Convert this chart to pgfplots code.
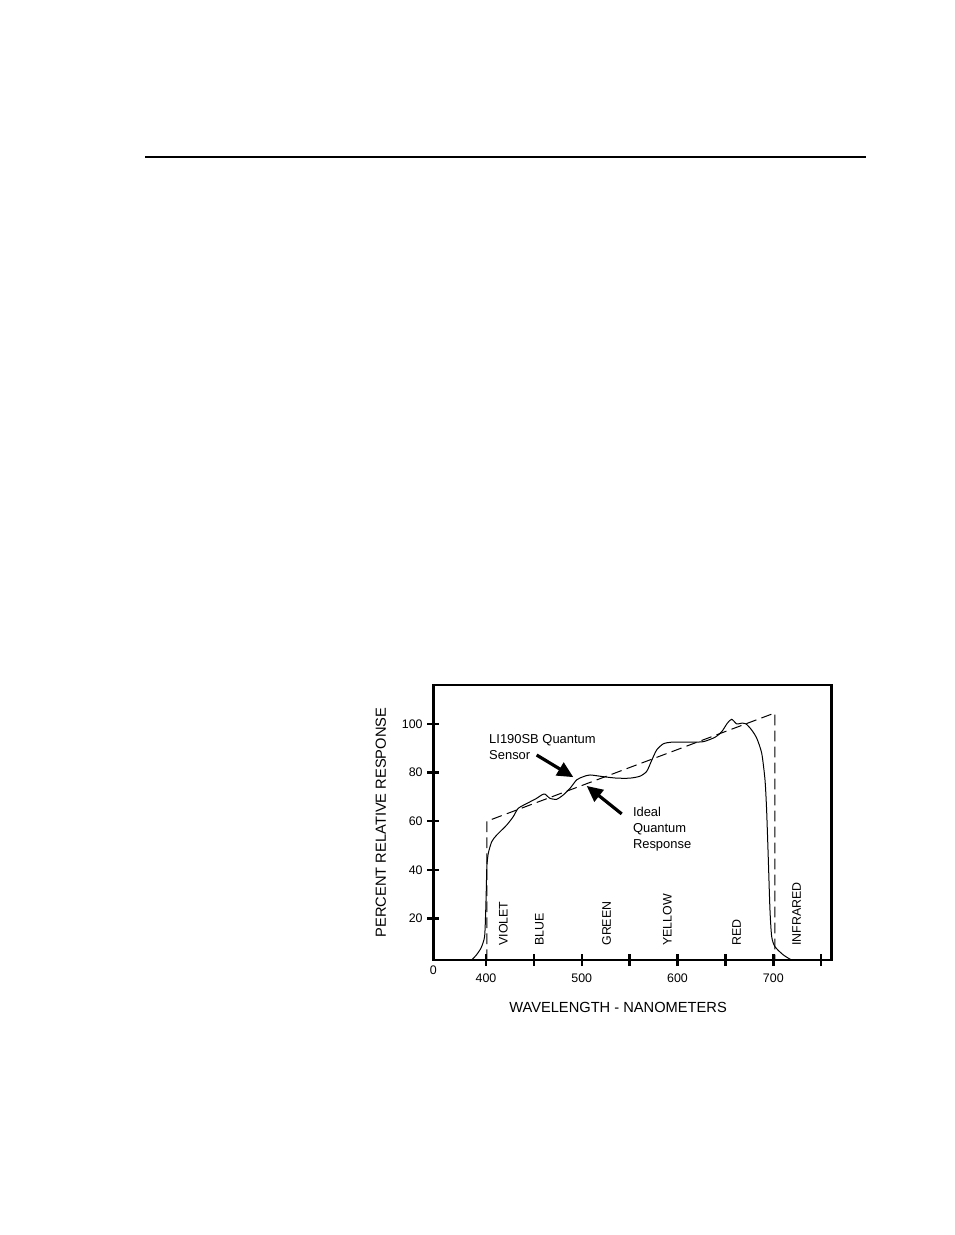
\documentclass[border=0pt]{standalone}
\usepackage{pgfplots}
\pgfplotsset{compat=1.18}
\usepackage{fontspec}
\setmainfont{Liberation Sans}
\usetikzlibrary{arrows.meta}
\begin{document}
\begin{tikzpicture}
\path[use as bounding box] (0,0) rectangle (715.5pt,-926.25pt);
\draw[line width=1.8pt] (108.75pt,-117.75pt) -- (649.5pt,-117.75pt);
\begin{axis}[
  at={(325pt,-720pt)}, anchor=south west,
  scale only axis, width=298.8pt, height=206.25pt,
  xmin=345, xmax=761, ymin=2.9, ymax=116,
  axis line style={line width=2.2pt},
  tick pos=left, tick align=center,
  major tick length=9pt,
  tick style={line width=1.8pt, black},
  xtick={400,450,500,550,600,650,700,750},
  xticklabels={400,,500,,600,,700,},
  ytick={20,40,60,80,100},
  /pgf/number format/assume math mode=true,
  ticklabel style={font=\fontsize{9.3}{11}\selectfont},
  xticklabel style={yshift=-2pt},
  xlabel={WAVELENGTH - NANOMETERS},
  ylabel={PERCENT RELATIVE RESPONSE},
  label style={font=\fontsize{11}{13}\selectfont},
  xlabel style={at={(axis description cs:0.4636,-0.171)}, anchor=center},
  ylabel style={at={(axis description cs:-0.132,0.5)}, anchor=center},
  clip=false,
]
\addplot[black, line width=0.75pt, smooth, tension=0.4] coordinates {
(385,2.9) (390,5) (395,8) (398.5,12.5) (399.6,22) (400.3,32) (400.9,41.5) (402.4,46.8) (406,51.6) (411.2,54.3) (421.6,58.4) (428.5,61.9) (433.7,65.3) (444.2,67.6) (452.9,69.4) (458.2,70.8) (461.6,71.1) (466.8,69.4) (473.8,69.0) (480.7,70.8) (487.7,73.5) (494.7,77) (501.6,78.3) (508.6,79.0) (522.5,78.3) (536.5,77.7) (550.4,77.7) (560.8,78.5) (567.8,80.5) (573,85) (578.2,89.3) (585.1,91.8) (593.9,92.5) (613,92.5) (626.9,92.7) (639.1,94.5) (646.1,96.8) (652,100.3) (656.5,101.9) (661.8,100) (667,100.3) (671.5,100) (677.4,97.5) (682.7,94.1) (687.9,87.9) (691.3,77) (693,64.6) (694.8,44) (696.5,23.5) (698.3,12.5) (701.7,8.4) (710.4,5) (719,2.9)
};
\addplot[black, line width=0.75pt, dash pattern=on 8pt off 4pt] coordinates {
(401,2.9) (401,60) (701.5,104.5) (701.5,2.9)
};
\node[font=\fontsize{9.3}{11}\selectfont] at (rel axis cs:0,0) [yshift=-7.5pt] {0};
\foreach \lab/\xx in {VIOLET/418,BLUE/455.7,GREEN/526,YELLOW/589.3,RED/661.6,INFRARED/724.4}{
  \edef\tmp{\noexpand\node[rotate=90, anchor=west, inner sep=0pt, font=\noexpand\fontsize{9.3}{11}\noexpand\selectfont] at (axis cs:\xx,8.7) {\lab};}
  \tmp
}
\node[anchor=west, align=left, inner sep=0pt, font=\fontsize{9.7}{11.8}\selectfont] at (axis cs:403.1,90.5) {LI190SB Quantum\\Sensor};
\node[anchor=west, align=left, inner sep=0pt, font=\fontsize{9.7}{11.9}\selectfont] at (axis cs:553.2,56.7) {Ideal\\Quantum\\Response};
\draw[line width=2.4pt, -{Triangle[length=12pt,width=11pt]}] (axis cs:452.9,87.2) -- (axis cs:491.2,78.1);
\draw[line width=2.4pt, -{Triangle[length=12pt,width=11pt]}] (axis cs:541.7,63.0) -- (axis cs:505.1,74.5);
\end{axis}
\end{tikzpicture}
\end{document}
